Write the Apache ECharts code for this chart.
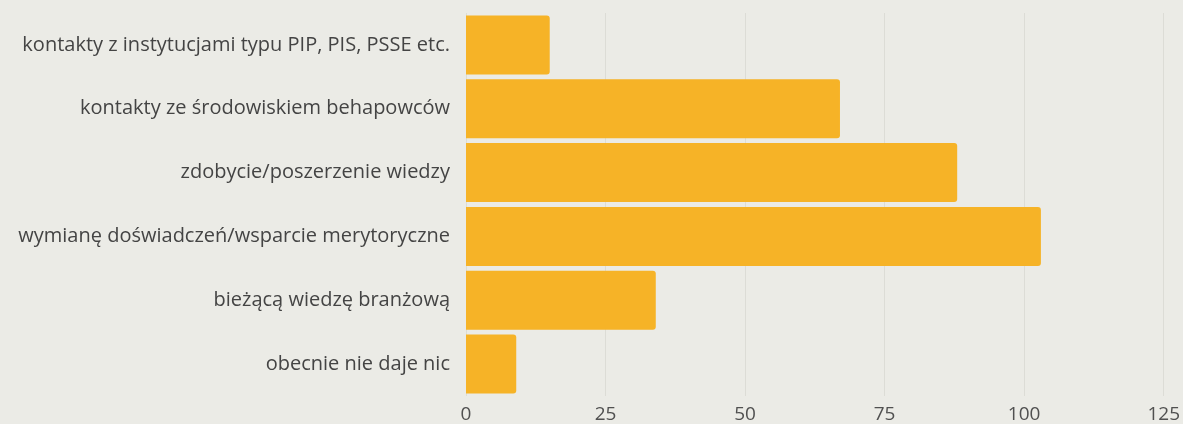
<!DOCTYPE html>
<html>
<head>
<meta charset="utf-8">
<script src="https://cdn.jsdelivr.net/npm/echarts@6/dist/echarts.min.js"></script>
<style>
  html, body { margin: 0; padding: 0; background: #EBEBE6; }
  #chart { width: 1183px; height: 424px; }
</style>
</head>
<body>
<div id="chart"></div>
<script>
// Answers, listed top to bottom as shown
const categories = [
  'kontakty z instytucjami typu PIP, PIS, PSSE etc.',
  'kontakty ze środowiskiem behapowców',
  'zdobycie/poszerzenie wiedzy',
  'wymianę doświadczeń/wsparcie merytoryczne',
  'bieżącą wiedzę branżową',
  'obecnie nie daje nic'
];
const counts = [15, 67, 88, 103, 34, 9];
const axisTicks = [0, 25, 50, 75, 100, 125];

const chart = echarts.init(document.getElementById('chart'));
chart.setOption({
  backgroundColor: '#EBEBE6',
  animation: false,
  grid: { left: 466, right: 17, top: 13, bottom: 28, containLabel: false },
  xAxis: {
    type: 'value',
    min: axisTicks[0],
    max: axisTicks[axisTicks.length - 1],
    interval: axisTicks[1] - axisTicks[0],
    axisLine: { show: false },
    axisTick: { show: false },
    splitLine: { lineStyle: { color: '#DCDCD6', width: 1 } },
    axisLabel: {
      color: '#505050',
      fontFamily: 'Open Sans',
      fontSize: 19,
      margin: 9
    }
  },
  yAxis: {
    type: 'category',
    inverse: true,
    data: categories,
    axisLine: { show: false },
    axisTick: { show: false },
    axisLabel: {
      color: '#444444',
      fontFamily: 'Open Sans',
      fontSize: 20,
      margin: 16
    }
  },
  series: [{
    type: 'bar',
    data: counts,
    barCategoryGap: '7.5%',
    itemStyle: { color: '#F6B327', borderRadius: [0, 3, 3, 0] }
  }]
});
</script>
</body>
</html>
